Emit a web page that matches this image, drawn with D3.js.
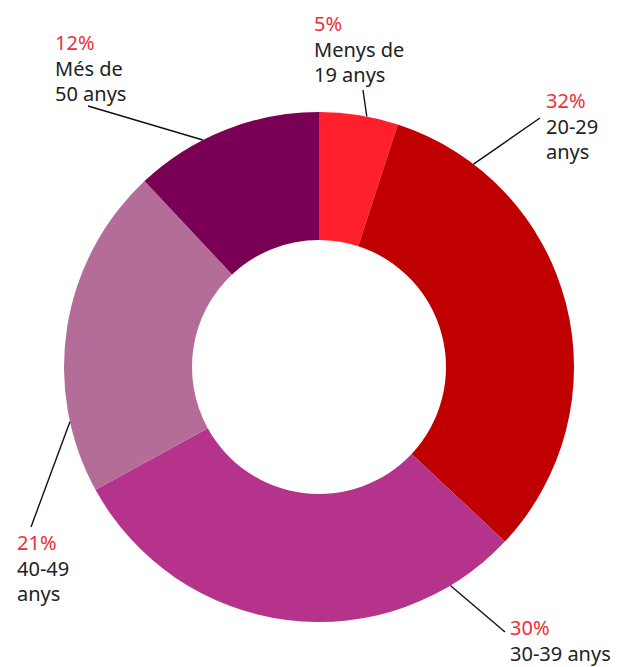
<!DOCTYPE html>
<html>
<head>
<meta charset="utf-8">
<script src="https://cdn.jsdelivr.net/npm/d3@7"></script>
<style>
  body { margin: 0; background: #fff; }
  .pct { fill: #ee2f3b; }
  .lbl { fill: #222; }
  text { font-family: "Noto Sans", sans-serif; font-size: 20px; }
</style>
</head>
<body>
<div id="chart"></div>
<script>
// data
var groups = ["Menys de 19 anys", "20-29 anys", "30-39 anys", "40-49 anys", "Més de 50 anys"];
var shares = [5, 32, 30, 21, 12];
var labelLines = [["Menys de", "19 anys"], ["20-29", "anys"], ["30-39 anys"], ["40-49", "anys"], ["Més de", "50 anys"]];
var colors = ["#ff1f2d", "#c00000", "#b5338a", "#b36d98", "#7a0055"];

// layout of annotations (label anchor + where the leader line touches the ring)
var labelPos = [[314, 31], [546, 108], [510, 635], [17, 550], [55, 50]];
var pointerDeg = [10.8, 37.3, 149, 257.6, 332.9];
var lineEnd = [[363, 90], [540, 118], [505, 632], [31, 527], [88, 106]];

var width = 624, height = 667;
var cx = 319, cy = 367, outerR = 255, innerR = 127;

var svg = d3.select("#chart").append("svg")
    .attr("width", width)
    .attr("height", height);

var pie = d3.pie().sort(null).value(function (d) { return d; });
var arc = d3.arc().innerRadius(innerR).outerRadius(outerR);
var arcs = pie(shares);

var g = svg.append("g").attr("transform", "translate(" + cx + "," + cy + ")");
g.selectAll("path")
    .data(arcs)
    .enter().append("path")
    .attr("d", arc)
    .attr("fill", function (d, i) { return colors[i]; });

// leader lines
var lines = svg.append("g");
arcs.forEach(function (d, i) {
    var a = pointerDeg[i] * Math.PI / 180;
    lines.append("line")
        .attr("x1", cx + outerR * Math.sin(a))
        .attr("y1", cy - outerR * Math.cos(a))
        .attr("x2", lineEnd[i][0])
        .attr("y2", lineEnd[i][1])
        .attr("stroke", "#111")
        .attr("stroke-width", 1.4);
});

// labels
var labels = svg.append("g");
arcs.forEach(function (d, i) {
    var t = labels.append("text")
        .attr("x", labelPos[i][0])
        .attr("y", labelPos[i][1]);
    t.append("tspan")
        .attr("class", "pct")
        .attr("x", labelPos[i][0])
        .text(shares[i] + "%");
    labelLines[i].forEach(function (s) {
        t.append("tspan")
            .attr("class", "lbl")
            .attr("x", labelPos[i][0])
            .attr("dy", 25.5)
            .text(s);
    });
});
</script>
</body>
</html>
